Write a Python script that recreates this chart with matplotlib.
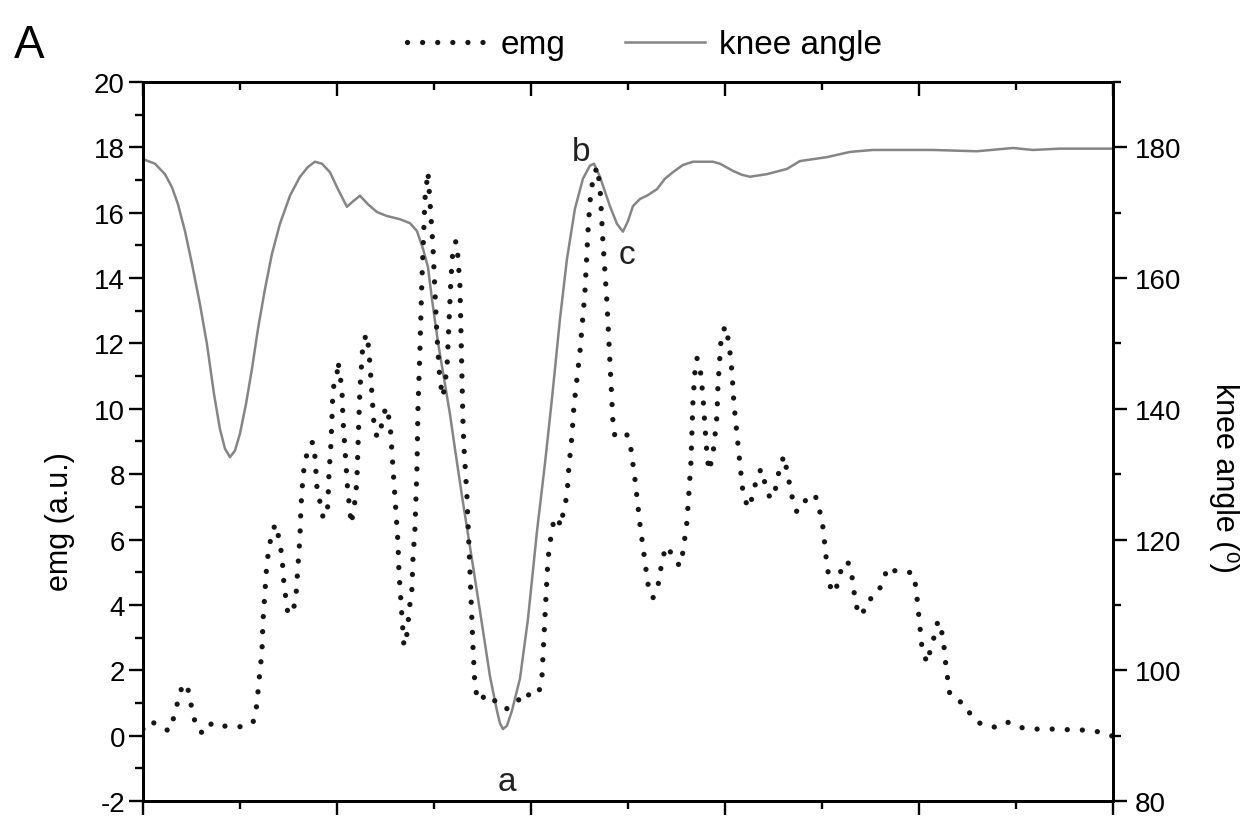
import matplotlib
matplotlib.use("Agg")
import matplotlib.pyplot as plt
import matplotlib.lines as mlines
from matplotlib.ticker import MultipleLocator

plt.rcParams["font.family"] = ["Liberation Sans", "DejaVu Sans"]
plt.rcParams["axes.unicode_minus"] = False

# x is the sample index (no labels are printed on the x axis)
EMG_X = [0, 7, 17, 26, 31, 35, 39, 44, 47, 50, 54, 61, 69, 79, 90, 102, 111, 114, 116, 119,
         120, 122, 124, 129, 133, 136, 139, 141, 143, 145, 150, 153, 155, 157, 158, 160, 162,
         167, 170, 172, 174, 177, 180, 184, 185, 186, 188, 189, 190, 194, 195, 199, 200, 202,
         204, 205, 207, 208, 211, 213, 214, 215, 216, 217, 219, 220, 224, 226, 228, 230, 231,
         234, 237, 239, 243, 247, 249, 251, 253, 255, 256, 258, 259, 261, 264, 267, 269, 270,
         272, 273, 274, 274.5, 275, 277, 279, 282, 285, 287, 290, 292, 294, 297, 300, 304,
         306, 308, 310, 313, 315, 317, 318, 319, 320, 321, 324, 327, 330, 332, 335, 345, 354,
         363, 374, 380, 390, 396, 399, 402, 405, 407, 409, 412, 419, 420, 424, 426, 429, 431,
         434, 437, 442, 445, 447, 450, 454, 457, 460, 464, 467, 470, 472, 479, 484, 488, 492,
         497, 501, 505, 510, 515, 520, 525, 530, 537, 540, 544, 546, 548, 549, 550, 552, 554,
         557, 560, 562, 564, 566, 569, 571, 574, 575, 577, 578, 582, 586, 589, 591, 594, 597,
         600, 605, 610, 613, 618, 622, 627, 631, 634, 637, 641, 644, 647, 650, 654, 662, 672,
         677, 680, 683, 687, 692, 696, 700, 705, 709, 713, 719, 724, 734, 740, 745, 754, 762,
         770, 773, 776, 779, 784, 788, 792, 795, 800, 803, 807, 814, 823, 829, 840, 852, 864,
         875, 889, 902, 916, 930, 944, 957, 969]
EMG_Y = [0.20, 0.45, 0.29, 0.14, 0.57, 1.06, 1.49, 1.58, 1.12, 0.66, 0.20, 0.05, 0.39, 0.29,
         0.29, 0.26, 0.45, 0.97, 1.67, 2.56, 3.48, 4.39, 5.31, 6.26, 6.47, 6.02, 5.50, 4.64,
         4.18, 3.72, 3.78, 4.27, 5.19, 6.08, 7.00, 7.91, 8.40, 8.92, 8.98, 8.53, 7.61, 7.15,
         6.69, 6.69, 7.15, 8.00, 8.92, 9.69, 10.61, 11.00, 11.46, 10.61, 9.69, 8.77, 7.85,
         7.39, 6.93, 6.47, 6.93, 7.45, 7.85, 8.83, 9.75, 10.61, 11.52, 12.04, 12.29, 11.77,
         10.91, 9.99, 9.53, 9.14, 9.17, 9.60, 10.06, 9.60, 8.68, 7.79, 6.84, 5.92, 5.01, 4.12,
         3.66, 2.74, 3.11, 4.03, 4.49, 5.40, 6.32, 7.24, 8.16, 9.08, 9.99, 11.83, 13.97, 16.42,
         17.25, 16.36, 14.98, 13.57, 12.23, 10.85, 10.36, 11.22, 12.59, 13.97, 14.89, 15.13,
         14.65, 13.76, 12.38, 11.00, 9.63, 8.83, 7.33, 5.04, 2.74, 1.52, 1.06, 1.27, 1.00,
         0.81, 1.00, 1.33, 1.18, 1.33, 1.79, 3.63, 5.40, 5.86, 6.32, 6.69, 6.41, 6.84, 7.33,
         8.25, 9.17, 10.09, 10.91, 11.74, 13.57, 15.41, 16.33, 17.03, 17.40, 16.82, 15.10,
         13.27, 11.43, 9.60, 9.14, 9.23, 9.20, 8.77, 7.85, 6.47, 5.56, 4.64, 4.21, 4.58, 5.50,
         5.80, 5.43, 5.19, 5.62, 6.54, 7.45, 8.37, 9.29, 10.21, 11.13, 11.55, 11.31, 10.39,
         9.47, 8.62, 8.10, 8.46, 8.86, 9.78, 10.70, 11.62, 12.07, 12.53, 12.04, 11.13, 10.15,
         9.23, 8.31, 7.45, 6.96, 7.33, 7.79, 8.16, 7.73, 7.27, 7.30, 7.79, 8.22, 8.56, 8.10,
         7.64, 7.18, 6.84, 7.18, 7.39, 6.84, 6.38, 5.50, 4.58, 4.36, 4.82, 5.28, 5.31, 4.88,
         3.97, 3.66, 4.12, 4.30, 4.73, 5.16, 5.01, 5.01, 4.98, 4.55, 3.63, 2.71, 2.22, 2.68,
         3.11, 3.51, 3.05, 2.13, 1.24, 1.09, 0.94, 0.54, 0.32, 0.26, 0.42, 0.26, 0.20, 0.20,
         0.20, 0.17, 0.17, 0.11, -0.01]

KNEE_X = [0, 12, 22, 29, 35, 42, 49, 57, 64, 71, 77, 82, 87, 92, 97, 103, 109, 115, 122, 129,
          137, 147, 157, 165, 172, 179, 187, 195, 200, 204, 209, 217, 225, 234, 244, 257, 267,
          274, 280, 285, 289, 295, 302, 307, 312, 319, 330, 339, 347, 354, 357, 360, 364, 369,
          377, 385, 394, 402, 409, 417, 424, 432, 440, 447, 451, 457, 467, 474, 480, 485, 490,
          497, 504, 514, 522, 530, 540, 550, 570, 577, 590, 599, 607, 624, 644, 657, 684, 707,
          730, 790, 834, 870, 890, 917, 970]
KNEE_Y = [178.2, 177.5, 175.9, 173.9, 171.3, 167.2, 162.2, 156.0, 149.9, 142.3, 136.9, 133.9,
          132.6, 133.6, 136.2, 140.7, 146.1, 152.2, 158.3, 163.7, 168.3, 172.6, 175.5, 177.0,
          177.8, 177.5, 176.2, 173.6, 172.1, 170.9, 171.6, 172.6, 171.3, 170.1, 169.5, 169.0,
          168.4, 167.2, 164.5, 161.7, 156.8, 150.2, 143.8, 139.2, 133.9, 126.7, 116.0, 107.1,
          99.1, 93.8, 91.9, 91.0, 91.5, 93.8, 98.7, 107.8, 121.2, 131.6, 141.5, 153.7, 162.9,
          170.6, 175.2, 177.2, 177.5, 175.5, 171.0, 168.3, 167.1, 168.7, 171.0, 172.1, 172.6,
          173.6, 175.2, 176.2, 177.3, 177.8, 177.8, 177.5, 176.4, 175.8, 175.5, 175.9, 176.7,
          177.9, 178.5, 179.3, 179.6, 179.6, 179.4, 179.9, 179.6, 179.8, 179.8]

# point labels: (text, x, emg-axis y)
MARKS = [("a", 364, -1.39), ("b", 438, 17.86), ("c", 484, 14.73)]

EMG_COLOR = "#161616"
KNEE_COLOR = "#858585"
EMG_STYLE = (0, (0.01, 2.85))
EMG_LW = 3.8

fig = plt.figure(figsize=(12.54, 8.2), dpi=100)
ax = fig.add_axes([0.114, 0.022, 0.7735, 0.8768])
ax2 = ax.twinx()
ax.set_zorder(ax2.get_zorder() + 1)
ax.patch.set_visible(False)

ax2.plot(KNEE_X, KNEE_Y, color=KNEE_COLOR, lw=1.8, solid_joinstyle="round")
ax.plot(EMG_X, EMG_Y, color=EMG_COLOR, lw=EMG_LW, linestyle=EMG_STYLE,
        dash_capstyle="round")

ax.set_xlim(0, 970)
ax.set_ylim(-2, 20)
ax2.set_ylim(80, 190)

ax.xaxis.set_major_locator(MultipleLocator(194))
ax.xaxis.set_minor_locator(MultipleLocator(97))
ax.yaxis.set_major_locator(MultipleLocator(2))
ax.yaxis.set_minor_locator(MultipleLocator(1))
ax2.yaxis.set_major_locator(MultipleLocator(20))
ax2.yaxis.set_minor_locator(MultipleLocator(10))

ax.tick_params(axis="x", which="both", direction="out", labelbottom=False)
ax.tick_params(axis="y", which="both", direction="out", labelsize=20, pad=3)
ax2.tick_params(axis="y", which="both", direction="out", labelsize=20, pad=6)

# top axis: mirrored ticks pointing inwards, drawn on the twin's x axis
ax2.xaxis.set_visible(True)
ax2.tick_params(axis="x", which="both", direction="in", top=True, bottom=False,
                labeltop=False, labelbottom=False)

for a in (ax, ax2):
    a.tick_params(which="major", length=10, width=1.7)
    a.tick_params(which="minor", length=6, width=1.7)
    for sp in a.spines.values():
        sp.set_linewidth(2.0)

ax.set_ylabel("emg (a.u.)", fontsize=22)
ax.yaxis.set_label_coords(-0.070, 0.39)
ax2.set_ylabel("knee angle (\u2070)", fontsize=22, rotation=270, va="center")
ax2.yaxis.set_label_coords(1.115, 0.45)

for txt, x, y in MARKS:
    ax.text(x, y, txt, fontsize=24, ha="center", va="center", color="#222222")

handles = [
    mlines.Line2D([], [], color=EMG_COLOR, lw=EMG_LW, linestyle=EMG_STYLE,
                  dash_capstyle="round", label="emg"),
    mlines.Line2D([], [], color=KNEE_COLOR, lw=1.8, label="knee angle"),
]
fig.legend(handles=handles, loc="center", bbox_to_anchor=(0.514, 0.944), ncol=2,
           frameon=False, fontsize=24, handlelength=2.4, handletextpad=0.4,
           columnspacing=1.8)

fig.text(0.011, 0.929, "A", fontsize=33, va="baseline")

fig.savefig("out.png", dpi=100)
